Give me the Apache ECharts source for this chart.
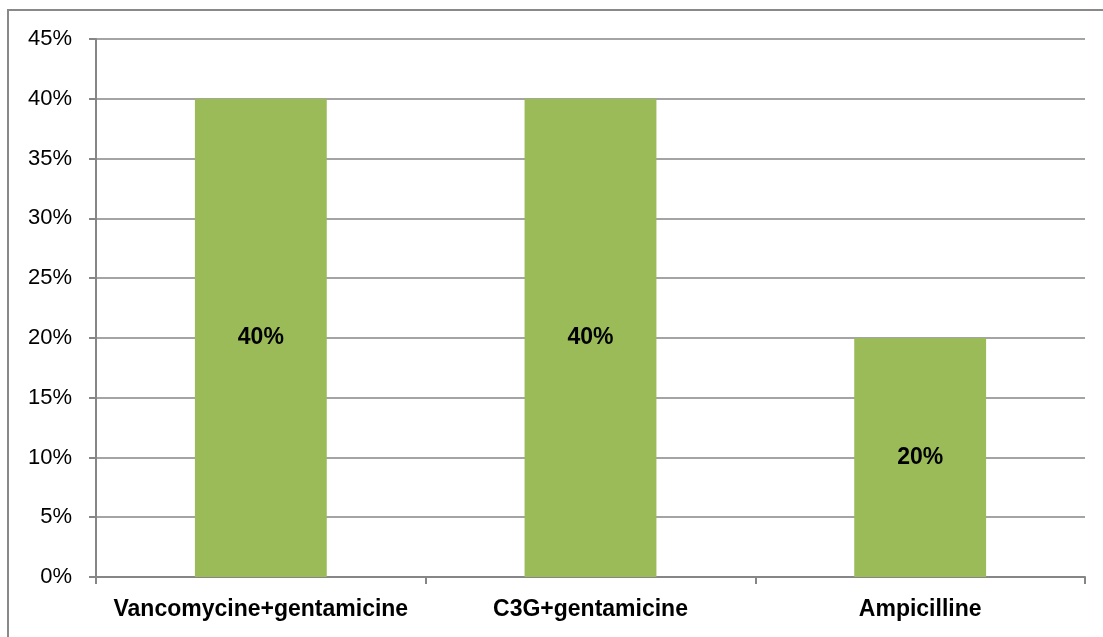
<!DOCTYPE html>
<html><head><meta charset="utf-8">
<script src="https://cdn.jsdelivr.net/npm/echarts@6/dist/echarts.min.js"></script>
<style>html,body{margin:0;padding:0;background:#fff}#c{width:1103px;height:637px}</style>
</head><body><div id="c"></div>
<script>
const categories = ['Vancomycine+gentamicine', 'C3G+gentamicine', 'Ampicilline'];
const values = [40, 40, 20];
const yMin = 0, yMax = 45, yStep = 5;

const font = '"Liberation Sans Narrow", "Arial Narrow", "Liberation Sans", sans-serif';
const chart = echarts.init(document.getElementById('c'));
chart.setOption({
  animation: false,
  backgroundColor: '#fff',
  graphic: [{
    type: 'rect', shape: {x: 8, y: 10, width: 1200, height: 700},
    style: {fill: 'none', stroke: '#898989', lineWidth: 2}, silent: true
  }],
  grid: {left: 96, right: 18, top: 39, bottom: 60},
  xAxis: {
    type: 'category', data: categories,
    axisLine: {lineStyle: {color: '#868686', width: 2}},
    axisTick: {show: true, interval: 0, length: 7, alignWithLabel: false, lineStyle: {color: '#868686', width: 2}},
    axisLabel: {interval: 0, color: '#000', fontFamily: font, fontWeight: 'bold', fontSize: 23, margin: 21}
  },
  yAxis: {
    type: 'value', min: yMin, max: yMax, interval: yStep,
    axisLine: {show: true, lineStyle: {color: '#868686', width: 2}},
    axisTick: {show: true, length: 7, lineStyle: {color: '#868686', width: 2}},
    splitLine: {lineStyle: {color: '#868686', width: 1.5}},
    axisLabel: {color: '#000', fontFamily: font, fontSize: 22, margin: 24, formatter: '{value}%'}
  },
  series: [{
    type: 'bar', data: values, barWidth: '40%',
    itemStyle: {color: '#9BBB59'},
    label: {show: true, position: 'inside', formatter: '{c}%', color: '#000',
      fontFamily: font, fontWeight: 'bold', fontSize: 23}
  }]
});
</script></body></html>
